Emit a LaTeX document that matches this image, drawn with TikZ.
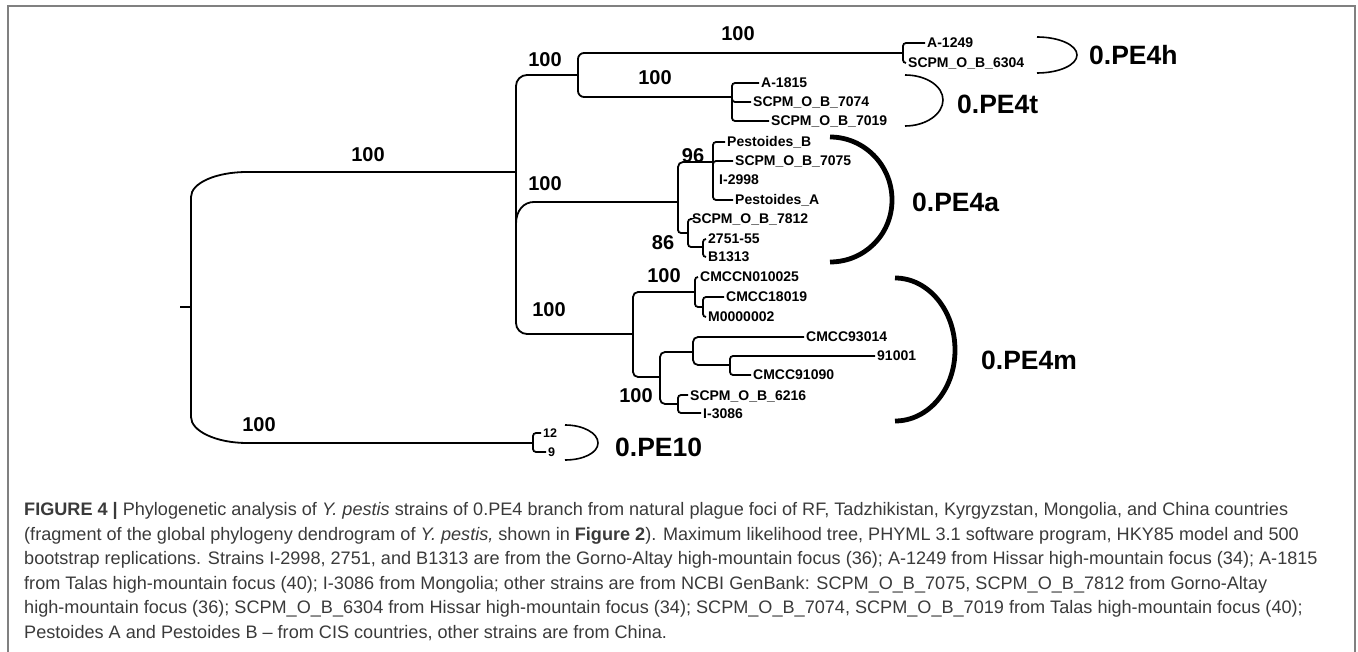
\documentclass[tikz,border=0pt]{standalone}
\usepackage{fontspec}
\setmainfont{Liberation Sans}
\newfontfamily\capfam{Liberation Sans}
\newcommand\leaffont{\bfseries\fontsize{14}{16}\selectfont}
\newcommand\smallleaffont{\bfseries\fontsize{12.5}{14}\selectfont}
\newcommand\bootfont{\bfseries\fontsize{20}{22}\selectfont}
\newcommand\cladefont{\bfseries\fontsize{26.5}{28}\selectfont}
\newcommand\capfont{\capfam\fontsize{18.1}{21}\selectfont}
\definecolor{capgray}{HTML}{3A3A3A}
\definecolor{framegray}{HTML}{808080}
\tikzset{
  tree/.style={line width=1.8pt, rounded corners=3pt},
  leaf/.style={font=\leaffont, anchor=west, inner xsep=2pt, inner ysep=0pt, text height=10pt, text depth=0pt},
  smallleaf/.style={font=\smallleaffont, anchor=west, inner xsep=2pt, inner ysep=0pt, text height=9pt, text depth=0pt},
  boot/.style={font=\bootfont, inner sep=0pt, text height=14.3pt, text depth=0pt},
  clade/.style={font=\cladefont, anchor=west, inner sep=0pt, text height=19pt, text depth=0pt},
  thinarc/.style={line width=1.6pt},
  thickarc/.style={line width=4.8pt},
  capline/.style={font=\capfont, anchor=west, inner sep=0pt, text height=13pt, text depth=0pt, text=capgray},
}
\begin{document}
\begin{tikzpicture}[x=1pt,y=-1pt]
\useasboundingbox (0,0) rectangle (1358,652);
% frame
\coordinate (fa) at (8,652);
\coordinate (fb) at (8,6);
\coordinate (fc) at (1355,6);
\coordinate (fd) at (1355,652);
\draw[framegray, line width=1.3pt] (fa) -- (fb) -- (fc) -- (fd);

% internal nodes
\coordinate (rt) at (180,307);
\coordinate (root) at (191,307);
\coordinate (n1) at (516,172);
\coordinate (n1m) at (516,224);
\coordinate (n2) at (578,75);
\coordinate (n3) at (903,53);
\coordinate (n4) at (732,97);
\coordinate (n5) at (678,202);
\coordinate (n6) at (713,162);
\coordinate (n7) at (688,233);
\coordinate (n8) at (703,247);
\coordinate (n9) at (633,334);
\coordinate (n10) at (695,292);
\coordinate (n12) at (703,307);
\coordinate (n11) at (660,377);
\coordinate (n13) at (693,352);
\coordinate (n15) at (730,365);
\coordinate (n14) at (678,404);
\coordinate (n16) at (533,443);

% leaves
\node[leaf] (lA1249) at (925,43) {A-1249};
\node[leaf] (l6304) at (906,63) {SCPM\_O\_B\_6304};
\node[leaf] (lA1815) at (759,83) {A-1815};
\node[leaf] (l7074) at (751,102) {SCPM\_O\_B\_7074};
\node[leaf] (l7019) at (769,121) {SCPM\_O\_B\_7019};
\node[leaf] (lPB) at (725,142) {Pestoides\_B};
\node[leaf] (l7075) at (733,161) {SCPM\_O\_B\_7075};
\node[leaf] (lI2998) at (717,180) {I-2998};
\node[leaf] (lPA) at (733,200) {Pestoides\_A};
\node[leaf] (l7812) at (690,219) {SCPM\_O\_B\_7812};
\node[leaf] (l2751) at (706,239) {2751-55};
\node[leaf] (lB1313) at (706,257) {B1313};
\node[leaf] (lN0100) at (698,277) {CMCCN010025};
\node[leaf] (l18019) at (724,297) {CMCC18019};
\node[leaf] (lM2) at (706,317) {M0000002};
\node[leaf] (l93014) at (804,337) {CMCC93014};
\node[leaf] (l91001) at (875,356) {91001};
\node[leaf] (l91090) at (751,375) {CMCC91090};
\node[leaf] (l6216) at (688,395) {SCPM\_O\_B\_6216};
\node[leaf] (lI3086) at (701,413) {I-3086};
\node[smallleaf] (l12) at (541,433) {12};
\node[smallleaf] (l9) at (546,452) {9};

% root
\draw[line width=1.8pt] (rt) -- (root);
\draw[line width=1.8pt] (root) -- ++(0,-110) .. controls +(0,-14) and +(-31,0) .. ++(56,-25) -- (n1);
\draw[line width=1.8pt] (root) -- ++(0,110) .. controls +(0,14) and +(-31,0) .. ++(56,26) -- (n16);
% n1
\draw[tree, rounded corners=11pt] (n1) |- (n2);
\draw[tree, rounded corners=11pt] (n1) |- (n9);
\draw[line width=1.8pt] (n1m) .. controls +(0,-14) and +(-10,0) .. (534,202) -- (n5);
% n2
\draw[tree, rounded corners=6pt] (n2) |- (n3);
\draw[tree, rounded corners=6pt] (n2) |- (n4);
% n3
\draw[tree] (n3) |- (lA1249.west);
\draw[tree] (n3) |- (l6304.west);
% n4
\draw[tree] (n4) |- (lA1815.west);
\draw[tree] (n4) |- (l7074.west);
\draw[tree] (n4) |- (l7019.west);
% n5
\draw[tree, rounded corners=5pt] (n5) |- (n6);
\draw[tree] (n5) |- (n7);
% n6
\draw[tree] (n6) |- (lPB.west);
\draw[tree] (n6) |- (l7075.west);
\draw[tree] (n6) |- (713,180);
\draw[tree] (n6) |- (lPA.west);
% n7, n8
\draw[tree] (n7) |- (l7812.west);
\draw[tree] (n7) |- (n8);
\draw[tree] (n8) |- (l2751.west);
\draw[tree] (n8) |- (lB1313.west);
% n9
\draw[tree, rounded corners=5pt] (n9) |- (n10);
\draw[tree, rounded corners=5pt] (n9) |- (n11);
% n10, n12
\draw[tree] (n10) |- (lN0100.west);
\draw[tree] (n10) |- (n12);
\draw[tree] (n12) |- (l18019.west);
\draw[tree] (n12) |- (lM2.west);
% n11
\draw[tree, rounded corners=5pt] (n11) |- (n13);
\draw[tree, rounded corners=5pt] (n11) |- (n14);
% n13, n15
\draw[tree, rounded corners=5pt] (n13) |- (l93014.west);
\draw[tree, rounded corners=5pt] (n13) |- (n15);
\draw[tree] (n15) |- (l91001.west);
\draw[tree] (n15) |- (l91090.west);
% n14
\draw[tree] (n14) |- (l6216.west);
\draw[tree] (n14) |- (lI3086.west);
% n16
\draw[tree] (n16) |- (l12.west);
\draw[tree] (n16) |- (l9.west);

% bootstrap values
\node[boot] (b1) at (738,33) {100};
\node[boot] (b2) at (545,59) {100};
\node[boot] (b3) at (655,77) {100};
\node[boot] (b4) at (368,154) {100};
\node[boot] (b5) at (545,183) {100};
\node[boot] (b6) at (693,155) {96};
\node[boot] (b7) at (663,242) {86};
\node[boot] (b8) at (549,309) {100};
\node[boot] (b9) at (664,275) {100};
\node[boot] (b10) at (636,395) {100};
\node[boot] (b11) at (259,424) {100};

% clade arcs
\coordinate (h1) at (1037,37); \coordinate (h2) at (1077,55); \coordinate (h3) at (1037,73);
\draw[thinarc] (h1) .. controls +(22,0) and +(0,-10) .. (h2) .. controls +(0,10) and +(22,0) .. (h3);
\coordinate (t1) at (905,75); \coordinate (t2) at (943,100); \coordinate (t3) at (905,126);
\draw[thinarc] (t1) .. controls +(21,0) and +(0,-14) .. (t2) .. controls +(0,14) and +(21,0) .. (t3);
\coordinate (a1) at (830,137); \coordinate (a2) at (892,200); \coordinate (a3) at (830,262);
\draw[thickarc] (a1) .. controls +(34,0) and +(0,-35) .. (a2) .. controls +(0,35) and +(34,0) .. (a3);
\coordinate (m1) at (895,278); \coordinate (m2) at (955,350); \coordinate (m3) at (895,421);
\draw[thickarc] (m1) .. controls +(33,0) and +(0,-40) .. (m2) .. controls +(0,40) and +(33,0) .. (m3);
\coordinate (p1) at (565,425); \coordinate (p2) at (598,443); \coordinate (p3) at (565,460);
\draw[thinarc] (p1) .. controls +(18,0) and +(0,-10) .. (p2) .. controls +(0,10) and +(18,0) .. (p3);

% clade labels
\node[clade] (c4h) at (1089,55) {0.PE4h};
\node[clade] (c4t) at (957,104) {0.PE4t};
\node[clade] (c4a) at (912,202) {0.PE4a};
\node[clade] (c4m) at (981,360) {0.PE4m};
\node[clade] (c10) at (615,447) {0.PE10};

% caption
\node[capline] (cap1) at (24,509) {\textbf{FIGURE 4 |} Phylogenetic analysis of \textit{Y. pestis} strains of 0.PE4 branch from natural plague foci of RF, Tadzhikistan, Kyrgyzstan, Mongolia, and China countries};
\node[capline] (cap2) at (24,533.5) {(fragment of the global phylogeny dendrogram of \textit{Y. pestis,} shown in \textbf{Figure 2}). Maximum likelihood tree, PHYML 3.1 software program, HKY85 model and 500};
\node[capline] (cap3) at (24,558) {bootstrap replications. Strains I-2998, 2751, and B1313 are from the Gorno-Altay high-mountain focus (36); A-1249 from Hissar high-mountain focus (34); A-1815};
\node[capline] (cap4) at (24,582.5) {from Talas high-mountain focus (40); I-3086 from Mongolia; other strains are from NCBI GenBank: SCPM\_O\_B\_7075, SCPM\_O\_B\_7812 from Gorno-Altay};
\node[capline] (cap5) at (24,607) {high-mountain focus (36); SCPM\_O\_B\_6304 from Hissar high-mountain focus (34); SCPM\_O\_B\_7074, SCPM\_O\_B\_7019 from Talas high-mountain focus (40);};
\node[capline] (cap6) at (24,631.5) {Pestoides A and Pestoides B – from CIS countries, other strains are from China.};
\end{tikzpicture}
\end{document}
